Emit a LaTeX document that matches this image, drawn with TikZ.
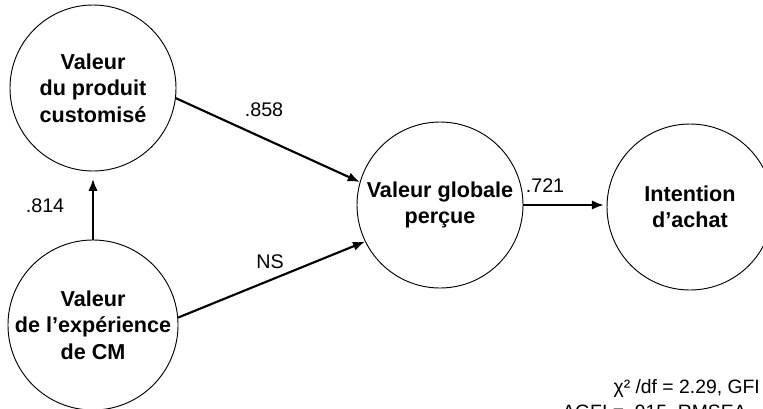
\documentclass[tikz,border=0pt]{standalone}
\usepackage{fontspec}
\setmainfont{Liberation Sans}
\usetikzlibrary{arrows.meta}
\begin{document}
\begin{tikzpicture}[x=0.75pt,y=-0.75pt,
  latent/.style={circle,draw,line width=0.7pt,minimum size=124.5pt,inner sep=0pt,
    align=center,font=\fontsize{16.2pt}{19.8pt}\selectfont\bfseries},
  path/.style={line width=1.6pt,-{Latex[length=9pt,width=7pt]}},
  coef/.style={font=\fontsize{14.8pt}{17pt}\selectfont},
  fit/.style={font=\fontsize{14.5pt}{17pt}\selectfont,inner sep=0pt}]
\useasboundingbox (0,0) rectangle (763,408);
\clip (0,0) rectangle (763,408);
\node[latent] (a) at (93,88) {Valeur\\du produit\\customisé};
\node[latent] (b) at (93,325) {Valeur\\de l’expérience\\de CM};
\node[latent] (c) at (440,205) {Valeur globale\\perçue};
\node[latent] (d) at (690,207) {Intention\\d’achat};
\draw[path,shorten >=5.5pt] (b.north) -- (a.south);
\draw[path] (a.-7) -- (c.164);
\draw[path] (b.5) -- (c.206);
\draw[path,shorten >=2pt] (c.east) -- (d.west |- c.east);
\node[coef] (l1) at (45,206) {.814};
\node[coef] (l2) at (264,110) {.858};
\node[coef] (l3) at (270,262) {NS};
\node[coef] (l4) at (545,186) {.721};
\node[fit,anchor=base east] (f1) at (760,393) {χ² /df = 2.29, GFI};
\node[fit,anchor=base west] (f2) at (562,418) {AGFI = .915, RMSEA};
\end{tikzpicture}
\end{document}
